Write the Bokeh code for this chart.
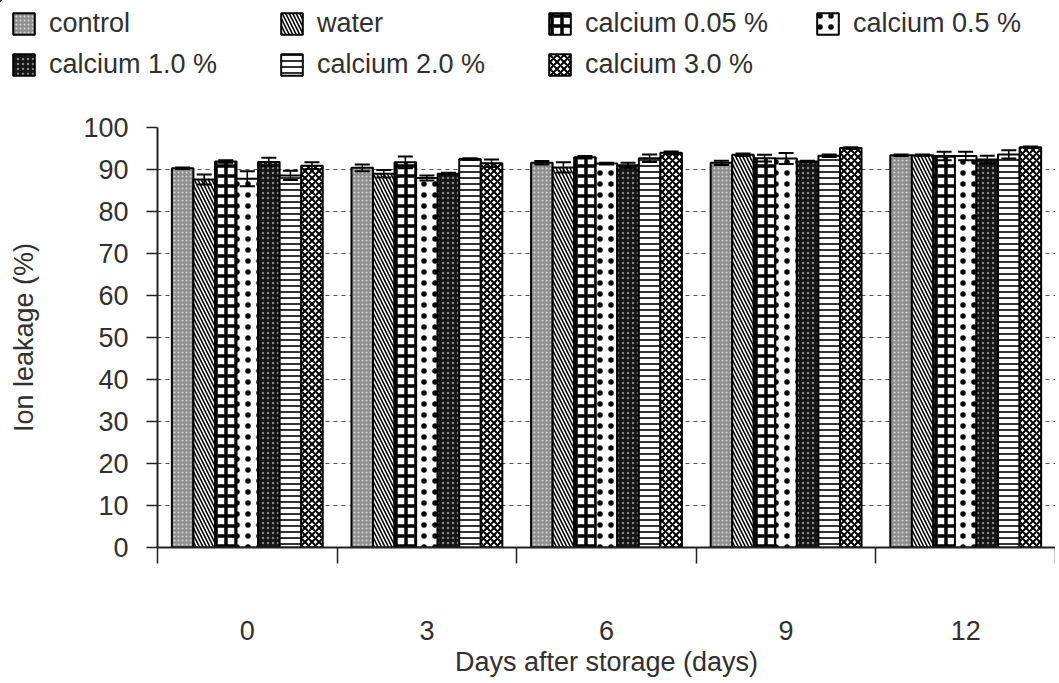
import numpy as np
from bokeh.plotting import figure
from bokeh.layouts import column
from bokeh.models import (ColumnDataSource, Range1d, FixedTicker, Legend, LegendItem,
                          Whisker, TeeHead)
from bokeh.transform import dodge
from bokeh.embed import file_html
from bokeh.resources import INLINE

# ---------------- data ----------------
days = ["0", "3", "6", "9", "12"]
treatments = ["control", "water", "calcium 0.05 %", "calcium 0.5 %",
              "calcium 1.0 %", "calcium 2.0 %", "calcium 3.0 %"]

control = [90.3, 90.4, 91.6, 91.6, 93.4]
control_err = [0.2, 0.8, 0.4, 0.5, 0.2]
water = [87.6, 89.0, 90.5, 93.5, 93.4]
water_err = [1.2, 0.9, 1.2, 0.3, 0.2]
ca_005 = [91.9, 91.7, 92.9, 92.7, 93.2]
ca_005_err = [0.3, 1.4, 0.3, 0.8, 1.0]
ca_05 = [87.8, 88.0, 91.4, 92.6, 93.2]
ca_05_err = [1.8, 0.6, 0.2, 1.3, 1.0]
ca_10 = [91.8, 89.0, 91.0, 91.9, 92.4]
ca_10_err = [1.0, 0.2, 0.6, 0.2, 0.9]
ca_20 = [88.6, 92.5, 92.7, 93.3, 93.6]
ca_20_err = [1.1, 0.2, 0.9, 0.3, 1.0]
ca_30 = [90.9, 91.5, 94.0, 95.1, 95.3]
ca_30_err = [0.8, 0.9, 0.3, 0.2, 0.2]

y_ticks = list(range(0, 101, 10))

series = [control, water, ca_005, ca_05, ca_10, ca_20, ca_30]
errors = [control_err, water_err, ca_005_err, ca_05_err, ca_10_err, ca_20_err, ca_30_err]

# ---------------- source ----------------
n = len(days)
centers = np.arange(n) + 0.5
data = {"x": centers}
for i, (vals, errs) in enumerate(zip(series, errors)):
    v = np.array(vals)
    e = np.array(errs)
    data[f"s{i}"] = v
    data[f"s{i}_up"] = v + e
    data[f"s{i}_lo"] = v - e
src = ColumnDataSource(data)

# ---------------- fill styles (built-in hatches) ----------------
styles = [
    dict(fill_color="#8e8e8e", hatch_pattern=".", hatch_color="#dadada", hatch_scale=4, hatch_weight=1),
    dict(fill_color="white", hatch_pattern="\\", hatch_color="black", hatch_scale=7, hatch_weight=1.6),
    dict(fill_color="white", hatch_pattern="+", hatch_color="black", hatch_scale=10, hatch_weight=3.5),
    dict(fill_color="white", hatch_pattern=".", hatch_color="black", hatch_scale=11, hatch_weight=2.5),
    dict(fill_color="#151515", hatch_pattern=".", hatch_color="#858585", hatch_scale=5, hatch_weight=1),
    dict(fill_color="white", hatch_pattern="-", hatch_color="black", hatch_scale=6, hatch_weight=1.6),
    dict(fill_color="white", hatch_pattern="x", hatch_color="black", hatch_scale=7, hatch_weight=2),
]

FONT = "Liberation Sans"
TXT = "#303030"
W = 1055

# ---------------- main figure ----------------
p = figure(width=W, height=590, x_range=Range1d(0, n), y_range=Range1d(0, 100),
           output_backend="svg", toolbar_location=None,
           min_border_left=157, min_border_right=0, min_border_top=37, min_border_bottom=133,
           outline_line_color=None, background_fill_color="white")
p.frame_align = False

bar_w = 0.12
for i, name in enumerate(treatments):
    off = (i - (len(treatments) - 1) / 2) * bar_w
    p.vbar(x=dodge("x", off, range=p.x_range), top=f"s{i}", width=bar_w, source=src,
           line_color="black", line_width=2, **styles[i])
    w = Whisker(source=src, base=dodge("x", off, range=p.x_range),
                upper=f"s{i}_up", lower=f"s{i}_lo",
                line_color="black", line_width=1.5, level="overlay",
                upper_head=TeeHead(size=15, line_color="black", line_width=2),
                lower_head=TeeHead(size=15, line_color="black", line_width=2))
    p.add_layout(w)

# y axis
p.yaxis.ticker = FixedTicker(ticks=y_ticks)
p.yaxis.axis_label = "Ion leakage (%)"
p.yaxis.axis_label_text_font = FONT
p.yaxis.axis_label_text_font_size = "27px"
p.yaxis.axis_label_text_font_style = "normal"
p.yaxis.axis_label_text_color = TXT
p.yaxis.axis_label_standoff = 41
p.yaxis.major_label_text_font = FONT
p.yaxis.major_label_text_font_size = "27px"
p.yaxis.major_label_text_color = TXT
p.yaxis.major_label_standoff = 18
p.yaxis.major_tick_out = 11
p.yaxis.major_tick_in = 0
p.yaxis.minor_tick_line_color = None
p.yaxis.axis_line_color = "#222"
p.yaxis.axis_line_width = 2
p.yaxis.major_tick_line_color = "#222"
p.yaxis.major_tick_line_width = 1.5

# x axis: labels at group centres, ticks at group boundaries
p.xaxis.ticker = FixedTicker(ticks=list(centers), minor_ticks=list(range(n + 1)))
p.xaxis.major_label_overrides = {float(c): d for c, d in zip(centers, days)}
p.xaxis.major_tick_out = 0
p.xaxis.major_tick_in = 0
p.xaxis.minor_tick_out = 16
p.xaxis.minor_tick_in = 0
p.xaxis.minor_tick_line_color = "#222"
p.xaxis.minor_tick_line_width = 1.5
p.xaxis.axis_line_color = "#222"
p.xaxis.axis_line_width = 2
p.xaxis.major_label_standoff = 57
p.xaxis.major_label_text_font = FONT
p.xaxis.major_label_text_font_size = "27px"
p.xaxis.major_label_text_color = TXT
p.xaxis.axis_label = "Days after storage (days)"
p.xaxis.axis_label_text_font = FONT
p.xaxis.axis_label_text_font_size = "27px"
p.xaxis.axis_label_text_font_style = "normal"
p.xaxis.axis_label_text_color = TXT
p.xaxis.axis_label_standoff = 4

# grid
p.xgrid.grid_line_color = None
p.ygrid.ticker = FixedTicker(ticks=y_ticks[1:])
p.ygrid.grid_line_color = "#555555"
p.ygrid.grid_line_dash = "4 4"
p.ygrid.grid_line_width = 1

# ---------------- legend figure ----------------
lg = figure(width=W, height=90, x_range=Range1d(0, 1), y_range=Range1d(0, 1),
            output_backend="svg", toolbar_location=None, min_border=0,
            outline_line_color=None)
lg.frame_align = False
lg.axis.visible = False
lg.grid.grid_line_color = None
renderers = {}
for i, name in enumerate(treatments):
    # one bar placed outside the visible ranges, only so the legend swatch gets the style
    r = lg.vbar(x=[-5], bottom=[5], top=[6], width=0.1, line_color="black", line_width=2,
                **styles[i])
    renderers[name] = r

# legend fills column-first: arrange so rows read left-to-right as in the reference
order = [0, 4, 1, 5, 2, 6, 3]
items = [LegendItem(label=treatments[k], renderers=[renderers[treatments[k]]]) for k in order]

legend = Legend(items=items, ncols=4, location=(10, 10),
                label_text_font=FONT, label_text_font_size="27px", label_text_color=TXT,
                glyph_width=27, glyph_height=27, label_standoff=12, label_width=219,
                spacing=10, padding=0, margin=0,
                border_line_color=None, background_fill_alpha=0)
lg.add_layout(legend)

layout = column(lg, p, spacing=0)
open("out.html", "w").write(file_html(layout, INLINE))
